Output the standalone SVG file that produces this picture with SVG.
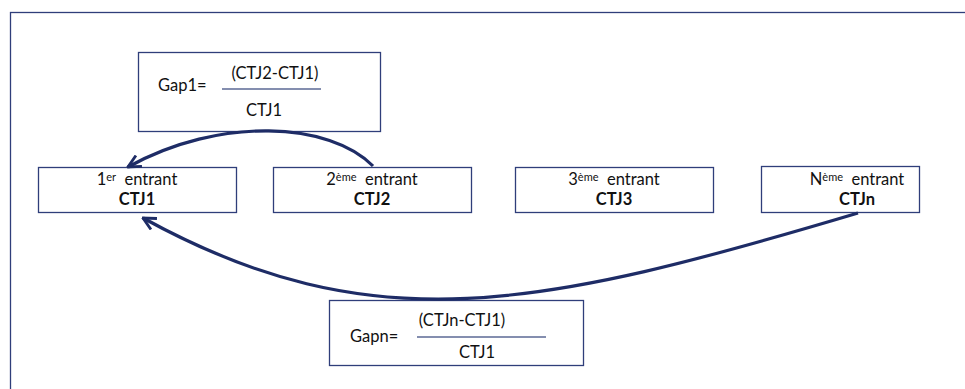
<svg xmlns="http://www.w3.org/2000/svg" width="965" height="389" viewBox="0 0 965 389">
  <style>
    .frame { fill: none; stroke: #2F3E7A; stroke-width: 1.3; }
    .box { fill: #ffffff; stroke: #2F3E7A; stroke-width: 1.3; }
    .t { font-family: Lato, "Open Sans", "Liberation Sans", sans-serif; font-size: 16.5px; fill: #111111; }
    .b { font-weight: bold; }
    .sup { font-size: 11px; }
    .frac { stroke: #5B6894; stroke-width: 1.5; }
    .link { fill: none; stroke: #1E2C66; stroke-width: 3.2; }
  </style>
  <defs>
    <marker id="open" viewBox="0 0 12 12" refX="11" refY="6" markerWidth="15" markerHeight="15" markerUnits="userSpaceOnUse" orient="auto">
      <path d="M1,1 L11,6 L1,11" fill="none" stroke="#1E2C66" stroke-width="2.3"/>
    </marker>
  </defs>
  <rect width="965" height="389" fill="#ffffff"/>
  <rect class="frame" x="10.5" y="12.5" width="970" height="400"/>

  <g id="gap1">
    <rect class="box" x="138.5" y="52.5" width="242" height="79"/>
    <text class="t" x="158" y="91">Gap1=</text>
    <text class="t" x="275" y="79" text-anchor="middle">(CTJ2-CTJ1)</text>
    <line class="frac" x1="222" y1="89" x2="321" y2="89"/>
    <text class="t" x="264" y="116" text-anchor="middle">CTJ1</text>
  </g>

  <g id="ctj1">
    <rect class="box" x="38.5" y="167.5" width="198" height="45"/>
    <text class="t" x="137" y="185" text-anchor="middle">1<tspan class="sup" dy="-4">er</tspan><tspan dy="4">&#160;&#160;entrant</tspan></text>
    <text class="t b" x="137" y="205" text-anchor="middle">CTJ1</text>
  </g>

  <g id="ctj2">
    <rect class="box" x="273.5" y="167.5" width="198" height="45"/>
    <text class="t" x="372" y="185" text-anchor="middle">2<tspan class="sup" dy="-4">ème</tspan><tspan dy="4">&#160;&#160;entrant</tspan></text>
    <text class="t b" x="372" y="205" text-anchor="middle">CTJ2</text>
  </g>

  <g id="ctj3">
    <rect class="box" x="515.5" y="167.5" width="198" height="45"/>
    <text class="t" x="614" y="185" text-anchor="middle">3<tspan class="sup" dy="-4">ème</tspan><tspan dy="4">&#160;&#160;entrant</tspan></text>
    <text class="t b" x="614" y="205" text-anchor="middle">CTJ3</text>
  </g>

  <g id="ctjn">
    <rect class="box" x="761.5" y="166.5" width="158" height="46"/>
    <text class="t" x="857" y="185" text-anchor="middle">N<tspan class="sup" dy="-4">ème</tspan><tspan dy="4">&#160;&#160;entrant</tspan></text>
    <text class="t b" x="857" y="205" text-anchor="middle">CTJn</text>
  </g>

  <g id="gapn">
    <rect class="box" x="329.5" y="300.5" width="254" height="65"/>
    <text class="t" x="350" y="342">Gapn=</text>
    <text class="t" x="462" y="326" text-anchor="middle">(CTJn-CTJ1)</text>
    <line class="frac" x1="417" y1="337" x2="546" y2="337"/>
    <text class="t" x="477" y="358" text-anchor="middle">CTJ1</text>
  </g>

  <g id="connectors">
    <path class="link" d="M373,166 C330,122 220,116 128,167" marker-end="url(#open)"/>
    <path class="link" d="M858,213 C540,308 372,344 143,218" marker-end="url(#open)"/>
  </g>
</svg>
